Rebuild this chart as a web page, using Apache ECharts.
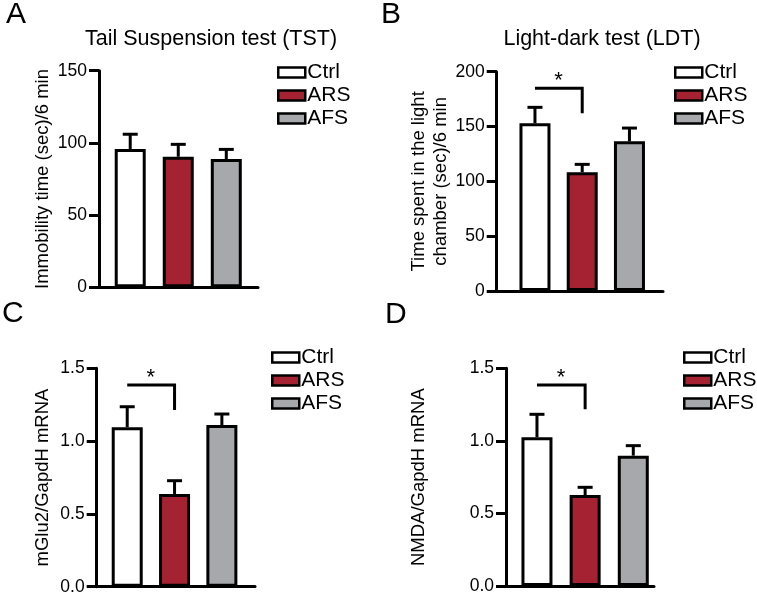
<!DOCTYPE html>
<html><head><meta charset="utf-8">
<script src="https://cdn.jsdelivr.net/npm/echarts@6/dist/echarts.min.js"></script>
<style>html,body{margin:0;padding:0;background:#fff}#c{width:757px;height:597px}</style>
</head><body><div id="c"></div>
<script>
const groups = ['Ctrl', 'ARS', 'AFS'];
const groupColors = ['#ffffff', '#a42232', '#a7a8ab'];

const tstMean = [95.8, 90.4, 88.8];
const tstErr = [10.2, 8.6, 6.7];

const ldtMean = [152.9, 108.2, 136.5];
const ldtErr = [14.6, 7.3, 12.1];
const ldtSig = [0, 1, 184.8, 162];

const mglu2Mean = [1.095, 0.637, 1.11];
const mglu2Err = [0.141, 0.091, 0.076];
const mglu2Sig = [0, 1, 1.385, 1.213];

const nmdaMean = [1.025, 0.627, 0.898];
const nmdaErr = [0.158, 0.053, 0.069];
const nmdaSig = [0, 1, 1.385, 1.218];

const FONT = 'Liberation Sans, Arial, Helvetica, sans-serif';

const panels = [
  {mean: tstMean, err: tstErr, sig: null, yMax: 150, yInt: 50, dec: 0,
   name: 'Immobility time (sec)/6 min', nameGap: 45,
   grid: {left: 99, top: 70.7, width: 159, height: 216.6}, xMin: -0.65, xMax: 2.66,
   legend: {left: 272, top: 57}},
  {mean: ldtMean, err: ldtErr, sig: ldtSig, yMax: 200, yInt: 50, dec: 0,
   name: 'Time spent in the light\nchamber (sec)/6 min', nameGap: 40,
   grid: {left: 496.7, top: 71.7, width: 166.3, height: 219.3}, xMin: -0.81, xMax: 2.71,
   legend: {left: 669, top: 57}},
  {mean: mglu2Mean, err: mglu2Err, sig: mglu2Sig, yMax: 1.5, yInt: 0.5, dec: 1,
   name: 'mGlu2/GapdH mRNA', nameGap: 43,
   grid: {left: 96.7, top: 368.3, width: 158.3, height: 218.4}, xMin: -0.645, xMax: 2.70,
   legend: {left: 266, top: 342}},
  {mean: nmdaMean, err: nmdaErr, sig: nmdaSig, yMax: 1.5, yInt: 0.5, dec: 1,
   name: 'NMDA/GapdH mRNA', nameGap: 76,
   grid: {left: 506, top: 368.3, width: 148, height: 217.7}, xMin: -0.643, xMax: 2.43,
   legend: {left: 678, top: 342}}
];

const grid = [], xAxis = [], yAxis = [], series = [], legend = [];
panels.forEach((p, k) => {
  grid.push(p.grid);
  xAxis.push({type: 'value', gridIndex: k, min: p.xMin, max: p.xMax,
    axisLine: {show: true, onZero: false, lineStyle: {color: '#000', width: 3}},
    axisTick: {show: false}, axisLabel: {show: false}, splitLine: {show: false}});
  yAxis.push({type: 'value', gridIndex: k, min: 0, max: p.yMax, interval: p.yInt,
    name: p.name, nameLocation: 'middle', nameGap: p.nameGap,
    nameTextStyle: {fontFamily: FONT, fontSize: 18.5, color: '#000', lineHeight: 21.5},
    axisLine: {show: true, onZero: false, lineStyle: {color: '#000', width: 3}},
    axisTick: {show: true, length: 10, lineStyle: {color: '#000', width: 3}},
    axisLabel: {fontFamily: FONT, fontSize: 17.5, color: '#000', margin: 12,
      formatter: v => v.toFixed(p.dec)},
    splitLine: {show: false}});
  groups.forEach((g, i) => {
    series.push({type: 'bar', name: g, xAxisIndex: k, yAxisIndex: k,
      barWidth: 31, barGap: '-100%', z: 2,
      itemStyle: {color: groupColors[i], borderColor: '#000', borderWidth: 3},
      data: [[i, p.mean[i]]]});
  });
  series.push({type: 'custom', xAxisIndex: k, yAxisIndex: k, z: 3, silent: true,
    data: p.mean.map((m, i) => [i, m, p.err[i]]),
    renderItem: (params, api) => {
      const x = api.value(0), y = api.value(1), e = api.value(2);
      const a = api.coord([x, y]), b = api.coord([x, y + e]);
      const st = {stroke: '#000', lineWidth: 3};
      return {type: 'group', children: [
        {type: 'line', shape: {x1: a[0], y1: a[1], x2: b[0], y2: b[1]}, style: st},
        {type: 'line', shape: {x1: b[0] - 7.5, y1: b[1], x2: b[0] + 7.5, y2: b[1]}, style: st}
      ]};
    }});
  if (p.sig) {
    series.push({type: 'custom', xAxisIndex: k, yAxisIndex: k, z: 3, silent: true,
      data: [p.sig],
      renderItem: (params, api) => {
        const a = api.coord([api.value(0), api.value(2)]);
        const b = api.coord([api.value(1), api.value(2)]);
        const c = api.coord([api.value(1), api.value(3)]);
        return {type: 'group', children: [
          {type: 'polyline', shape: {points: [a, b, c]}, style: {stroke: '#000', lineWidth: 3, fill: null}},
          {type: 'text', style: {text: '*', x: (a[0] + b[0]) / 2, y: a[1] + 4, align: 'center',
            verticalAlign: 'bottom', font: '22px ' + FONT, fill: '#000'}}
        ]};
      }});
  }
  legend.push({orient: 'vertical', left: p.legend.left, top: p.legend.top, data: groups,
    itemWidth: 27, itemHeight: 10, itemGap: 2, selectedMode: false,
    icon: 'rect',
    itemStyle: {borderColor: '#000', borderWidth: 2.5},
    textStyle: {fontFamily: FONT, fontSize: 21, color: '#000', padding: [0, 0, 0, -3]}});
});

const title = [
  {text: 'A', left: 6, top: 0},
  {text: 'B', left: 381, top: 0},
  {text: 'C', left: 2, top: 299},
  {text: 'D', left: 385, top: 300},
].map(t => Object.assign(t, {padding: 0, textStyle: {fontFamily: FONT, fontSize: 30, fontWeight: 'normal', color: '#000'}}));
title.push({text: 'Tail Suspension test (TST)', left: 211, top: 28, textAlign: 'center', padding: 0,
  textStyle: {fontFamily: FONT, fontSize: 21.5, fontWeight: 'normal', color: '#000'}});
title.push({text: 'Light-dark test (LDT)', left: 602, top: 28, textAlign: 'center', padding: 0,
  textStyle: {fontFamily: FONT, fontSize: 21.5, fontWeight: 'normal', color: '#000'}});

const chart = echarts.init(document.getElementById('c'), null, {renderer: 'canvas'});
chart.setOption({animation: false, backgroundColor: '#fff', title, grid, xAxis, yAxis, series, legend});
</script></body></html>
